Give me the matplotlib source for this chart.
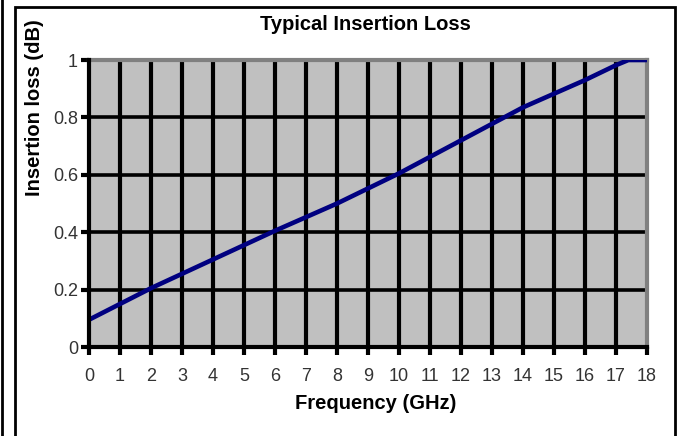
import matplotlib
matplotlib.use("Agg")
import matplotlib.pyplot as plt
from matplotlib.patches import Rectangle
from matplotlib.lines import Line2D

freq = [0, 2, 4, 6, 8, 10, 12, 14, 16, 17, 17.4, 18]
loss = [0.095, 0.205, 0.305, 0.405, 0.5, 0.605, 0.72, 0.835, 0.93, 0.982, 1.0, 1.0]
xticks = list(range(0, 19))
yticks = [0, 0.2, 0.4, 0.6, 0.8, 1]
ytick_labels = ["0", "0.2", "0.4", "0.6", "0.8", "1"]

plt.rcParams['font.family'] = ['Liberation Sans', 'DejaVu Sans']

W, H = 678, 436
fig = plt.figure(figsize=(W / 100, H / 100), dpi=100)
fig.patch.set_facecolor('white')

def fx(px):
    return px / W

def fy(py):
    return 1 - py / H

# outer frame
fig.add_artist(Rectangle((fx(15), fy(470)), fx(675) - fx(15), fy(7) - fy(470),
                         transform=fig.transFigure, fill=False, edgecolor='black', lw=2))
fig.add_artist(Line2D([fx(1.5), fx(1.5)], [0, 1], transform=fig.transFigure, color='black', lw=2))

left, right, top, bottom = 89, 647, 60, 347
ax = fig.add_axes([fx(left), fy(bottom), (right - left) / W, (bottom - top) / H])
ax.set_facecolor('#c0c0c0')
ax.set_xlim(0, 18)
ax.set_ylim(0, 1)

for x in xticks[1:-1]:
    ax.axvline(x, color='black', lw=3, zorder=1)
for y in yticks[1:-1]:
    ax.axhline(y, color='black', lw=2.6, zorder=1)

ax.plot(freq, loss, color='#000080', lw=3.3, zorder=3, solid_capstyle='butt')

for s in ['top', 'right']:
    ax.spines[s].set_color('#808080')
    ax.spines[s].set_linewidth(3)
for s in ['left', 'bottom']:
    ax.spines[s].set_color('black')
    ax.spines[s].set_linewidth(3)
    ax.spines[s].set_zorder(4)

ax.set_xticks(xticks)
ax.set_xticklabels([str(x) for x in xticks])
ax.set_yticks(yticks)
ax.set_yticklabels(ytick_labels)
ax.tick_params(axis='both', direction='out', length=6, width=3, color='black',
               labelsize=13, labelcolor='#333333')
ax.tick_params(axis='x', pad=9)
ax.tick_params(axis='y', pad=2)

fig.text(fx(365), fy(24), 'Typical Insertion Loss', ha='center', va='center',
         fontsize=14.5, fontweight='bold')
fig.text(fx(376), fy(403), 'Frequency (GHz)', ha='center', va='center',
         fontsize=14.5, fontweight='bold')
fig.text(fx(35), fy(108), 'Insertion loss (dB)', ha='center', va='center',
         rotation=90, fontsize=14.5, fontweight='bold')

fig.savefig('out.png', dpi=100)
